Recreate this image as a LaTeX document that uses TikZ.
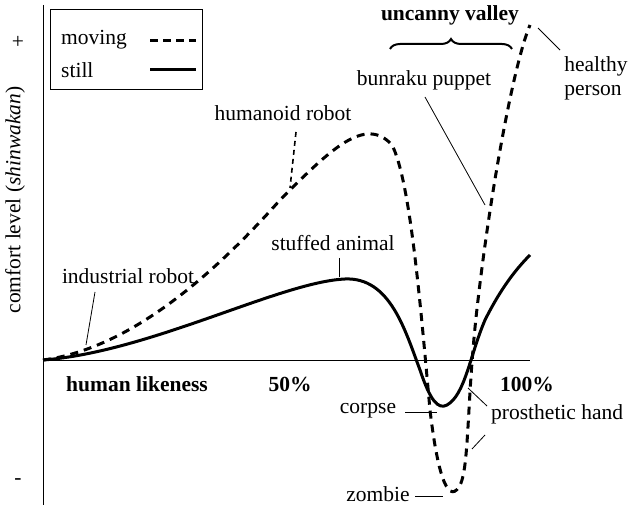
\documentclass[tikz,border=0pt]{standalone}
\usepackage{fontspec}
\setmainfont{Liberation Serif}
\usetikzlibrary{decorations.pathreplacing}
\begin{document}
\begin{tikzpicture}[x=1pt,y=-1pt,
  lbl/.style={font=\fontsize{21.5}{24}\selectfont,inner sep=1pt},
  blbl/.style={font=\bfseries\fontsize{21.5}{24}\selectfont,inner sep=1pt},
  lead/.style={line width=0.8pt},
  mov/.style={line width=3pt,dash pattern=on 8pt off 6pt},
  stl/.style={line width=3pt}]
\useasboundingbox (0,0) rectangle (640,510);
% axes
\coordinate (o) at (43,360);
\coordinate (ytop) at (43,5);
\coordinate (ybot) at (43,505);
\coordinate (xend) at (530,360);
\draw[line width=0.9pt] (ytop) -- (ybot);
\draw[line width=0.9pt] (o) -- (xend);
\node[lbl] (plus) at (18,42) {+};
\node[lbl] (minus) at (18,482) {-};
\node[lbl,rotate=90] (ylab) at (15,200) {comfort level (\textit{shinwakan})};
\node[blbl] (hl) at (137,384) {human likeness};
\node[blbl] (p50) at (290,384) {50\%};
\node[blbl] (p100) at (527,384) {100\%};
% legend
\node[draw,line width=0.9pt,minimum width=152pt,minimum height=80pt] (leg) at (126,49) {};
\node[lbl,anchor=west] (lm) at (60,40) {moving};
\node[lbl,anchor=west] (ls) at (60,70) {still};
\coordinate (lm1) at (150,41); \coordinate (lm2) at (196,41);
\coordinate (ls1) at (150,70); \coordinate (ls2) at (196,70);
\draw[mov,dash pattern=on 8pt off 5pt] (lm1) -- (lm2);
\draw[stl] (ls1) -- (ls2);
% moving curve
\draw[mov] (o) .. controls (120,350) and (200,290) .. (280,200)
  .. controls (330,150) and (365,115) .. (392,145)
  .. controls (410,180) and (420,300) .. (430,410)
  .. controls (437,470) and (447,505) .. (459,487)
  .. controls (470,470) and (466,400) .. (478,300)
  .. controls (492,180) and (515,60) .. (530,25);
% still curve
\draw[stl] (o) .. controls (150,352) and (280,282) .. (345,279)
  .. controls (390,277) and (405,330) .. (420,370)
  .. controls (430,400) and (438,410) .. (447,405)
  .. controls (465,395) and (470,355) .. (485,320)
  .. controls (500,290) and (515,270) .. (530,255);
% labels
\node[lbl] (ir) at (128,276) {industrial robot};
\coordinate (ir1) at (95,292); \coordinate (ir2) at (86,345);
\draw[lead] (ir1) -- (ir2);
\node[lbl] (sa) at (333,243) {stuffed animal};
\coordinate (sa1) at (339,258); \coordinate (sa2) at (339,277);
\draw[lead] (sa1) -- (sa2);
\node[lbl] (hr) at (283,113) {humanoid robot};
\coordinate (hr1) at (296,132); \coordinate (hr2) at (290,188);
\draw[line width=1.6pt,dash pattern=on 5pt off 4pt] (hr1) -- (hr2);
\node[lbl] (bp) at (424,80) {bunraku puppet};
\coordinate (bp1) at (425,97); \coordinate (bp2) at (485,205);
\draw[lead] (bp1) -- (bp2);
\node[lbl,align=left] (hp) at (596,78) {healthy\\person};
\coordinate (hp1) at (538,28); \coordinate (hp2) at (560,50);
\draw[lead] (hp1) -- (hp2);
\node[blbl] (uv) at (450,15) {uncanny valley};
\coordinate (br1) at (390,49); \coordinate (br2) at (512,49);
\draw[line width=2pt,decorate,decoration={brace,amplitude=10pt}] (br1) -- (br2);
\node[lbl] (cp) at (368,411) {corpse};
\coordinate (cp1) at (405,412); \coordinate (cp2) at (437,412);
\draw[lead] (cp1) -- (cp2);
\node[lbl,anchor=west] (ph) at (490,414) {prosthetic hand};
\coordinate (ph1) at (487,406); \coordinate (ph2) at (468,388);
\coordinate (ph3) at (485,435); \coordinate (ph4) at (472,449);
\draw[lead] (ph1) -- (ph2);
\draw[lead] (ph3) -- (ph4);
\node[lbl] (zb) at (378,494) {zombie};
\coordinate (zb1) at (415,496); \coordinate (zb2) at (443,496);
\draw[lead] (zb1) -- (zb2);
\end{tikzpicture}
\end{document}
